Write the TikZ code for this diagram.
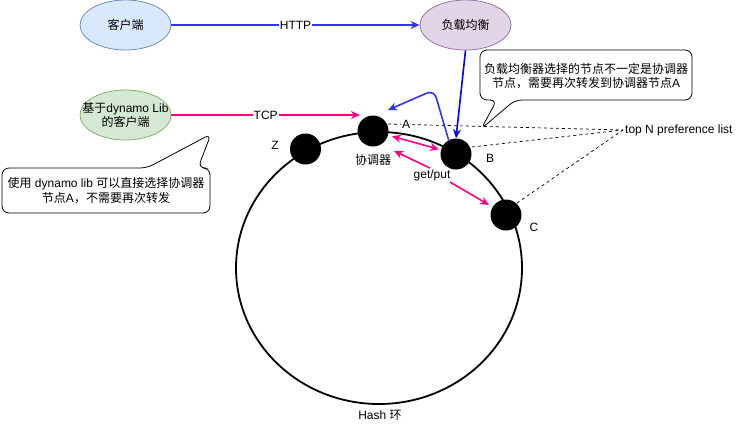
\documentclass[tikz,border=0pt]{standalone}
\usepackage{fontspec}
\setmainfont{Liberation Sans}
\newfontfamily\cjk{Noto Sans CJK SC}
\usetikzlibrary{shapes.geometric,arrows.meta}
\definecolor{cfill}{HTML}{DAE8FC}
\definecolor{cdraw}{HTML}{6C8EBF}
\definecolor{lfill}{HTML}{E1D5E7}
\definecolor{ldraw}{HTML}{9673A6}
\definecolor{gfill}{HTML}{D5E8D4}
\definecolor{gdraw}{HTML}{82B366}
\definecolor{lblue}{HTML}{3333FF}
\definecolor{dblue}{HTML}{0000FF}
\definecolor{pink}{HTML}{FF0080}
\begin{document}
\begin{tikzpicture}[x=1pt,y=-1pt,
  every node/.style={font=\fontsize{12}{14.5}\selectfont},
  bubble/.style={ellipse, draw, line width=0.8pt, minimum width=91pt, minimum height=50pt, inner sep=0pt, align=center},
  dot/.style={circle, fill=black, minimum size=31pt, inner sep=0pt},
  tipA/.style={-{Stealth[length=9pt,width=8pt]}},
  tipAB/.style={{Stealth[length=9pt,width=8pt]}-{Stealth[length=9pt,width=8pt]}},
  conn/.style={line width=1.6pt},
  pref/.style={dashed, dash pattern=on 3pt off 3pt, line width=0.7pt},
  lbl/.style={fill=white, inner sep=1pt},
  callout/.style={draw, line width=0.8pt, rounded corners=7pt, fill=white}]
\useasboundingbox (0,0) rectangle (741,426);

% ring
\node[ellipse, draw, line width=1.8pt, minimum width=286pt, minimum height=272pt, inner sep=0pt] (ring) at (379,268) {};
\node (hash) at (380,415) {Hash {\cjk 环}};

% top client nodes
\node[bubble, fill=cfill, draw=cdraw] (client) at (125.5,25) {{\cjk 客户端}};
\node[bubble, fill=lfill, draw=ldraw] (lb) at (465.5,25) {{\cjk 负载均衡}};
\node[bubble, fill=gfill, draw=gdraw] (lib) at (125.5,115) {};
\node[align=center, inner sep=0pt] (libtext) at (lib.center) {{\cjk 基于}dynamo Lib\\{\cjk 的客户端}};

% preference list
\node[inner sep=2pt, anchor=west] (top) at (623,130) {top N preference list};

% dashed lines
\coordinate (aOut) at (388,124);
\coordinate (bOut) at (472,147);
\coordinate (cOut) at (517,203);
\draw[pref] (aOut) -- (top.west);
\draw[pref] (bOut) -- (top.west);
\draw[pref] (cOut) -- (top.west);

% dots
\node[dot] (A) at (373,131) {};
\node[dot] (Z) at (305.5,149) {};
\node[dot] (B) at (456,154) {};
\node[dot] (C) at (506,215) {};
\node[lbl] (Alab) at (406,124) {A};
\node (Zlab) at (275,145) {Z};
\node (Blab) at (490,158) {B};
\node (Clab) at (534,227) {C};
\node (coord) at (373,160) {{\cjk 协调器}};

% HTTP / TCP
\coordinate (tcpEnd) at (360,115);
\draw[conn, lblue, tipA] (client) -- node[lbl, text=black] (http) {HTTP} (lb);
\draw[conn, pink, tipA] (lib) -- node[lbl, text=black, pos=0.5] (tcp) {TCP} (tcpEnd);

% load balancer arrows
\draw[conn, dblue, tipA] (lb.south) -- (B.north);
\coordinate (bend) at (434,90);
\coordinate (redir) at (388,110);
\draw[conn, lblue, tipA, rounded corners=8pt] (B.118) -- (bend) -- (redir);

% get/put arrows
\draw[conn, pink, tipAB, shorten <=4pt, shorten >=2pt] (A) -- (B);
\coordinate (g2s) at (430,168);
\coordinate (g2e) at (394,151);
\draw[conn, pink, tipA] (g2s) -- (g2e);
\coordinate (g3s) at (450,182);
\draw[conn, pink, tipA, shorten >=4pt] (g3s) -- (C);
\node (gp) at (432,175) {get/put};

% callouts
\draw[callout] (480,75) -- (480,50) -- (692,50) -- (692,100) -- (515,100) -- (481,129) -- (497,100) -- (480,100) -- cycle;
\node[align=center] (note1) at (586,76) {{\cjk 负载均衡器选择的节点不一定是协调器}\\{\cjk 节点，需要再次转发到协调器节点}A};
\draw[callout] (2,190) -- (2,168) -- (147,168) -- (211,134) -- (198,168) -- (210,168) -- (210,213) -- (2,213) -- cycle;
\node[align=center] (note2) at (106,190.5) {{\cjk 使用} dynamo lib {\cjk 可以直接选择协调器}\\{\cjk 节点}A{\cjk ，不需要再次转发}};
\end{tikzpicture}
\end{document}
